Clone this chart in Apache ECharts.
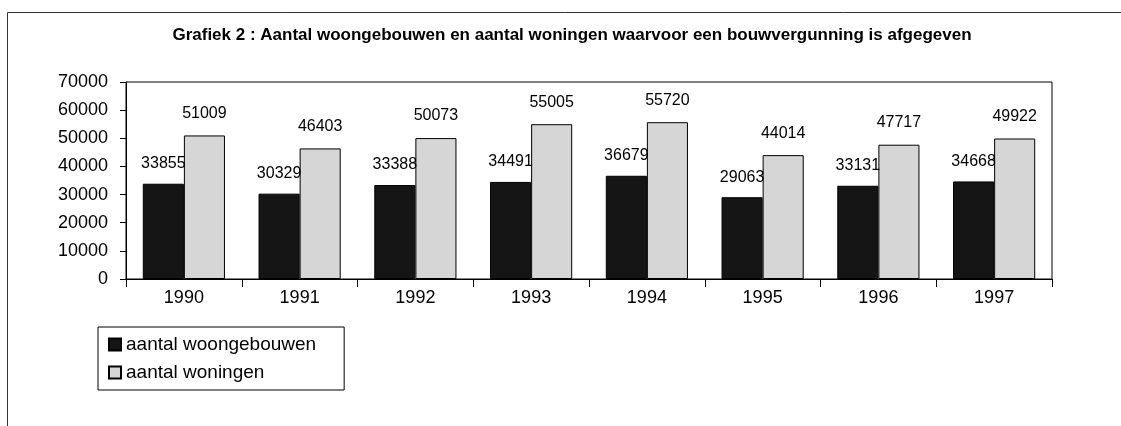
<!DOCTYPE html>
<html>
<head>
<meta charset="utf-8">
<script src="https://cdn.jsdelivr.net/npm/echarts@6/dist/echarts.min.js"></script>
<style>
html, body { margin: 0; padding: 0; background: #fff; }
#main { width: 1121px; height: 426px; }
</style>
</head>
<body>
<div id="main"></div>
<script>
var years = ['1990', '1991', '1992', '1993', '1994', '1995', '1996', '1997'];
var woongebouwen = [33855, 30329, 33388, 34491, 36679, 29063, 33131, 34668];
var woningen = [51009, 46403, 50073, 55005, 55720, 44014, 47717, 49922];
var yTicks = [0, 10000, 20000, 30000, 40000, 50000, 60000, 70000];

var font = 'Arial, "Liberation Sans", sans-serif';

var myChart = echarts.init(document.getElementById('main'));
var option = {
    backgroundColor: '#fff',
    animation: false,
    title: {
        text: 'Grafiek 2 : Aantal woongebouwen en aantal woningen waarvoor een bouwvergunning is afgegeven',
        left: 567,
        textAlign: 'center',
        top: 22,
        textStyle: {fontFamily: font, fontSize: 17, fontWeight: 'bold', color: '#000'}
    },
    legend: {
        orient: 'vertical',
        left: 98,
        top: 327,
        itemWidth: 12,
        itemHeight: 12,
        itemGap: 9,
        padding: [8, 28, 8, 10],
        borderColor: '#000',
        borderWidth: 1,
        icon: 'rect',
        textStyle: {fontFamily: font, fontSize: 19, color: '#000'},
        data: ['aantal woongebouwen', 'aantal woningen']
    },
    grid: {
        left: 126, right: 69, top: 82, bottom: 147,
        show: true, borderColor: '#000', borderWidth: 1, backgroundColor: '#fff'
    },
    xAxis: {
        type: 'category',
        data: years,
        axisLine: {lineStyle: {color: '#000', width: 1}},
        axisTick: {show: true, length: 8, lineStyle: {color: '#000'}},
        axisLabel: {fontFamily: font, fontSize: 18, color: '#000', margin: 10}
    },
    yAxis: {
        type: 'value',
        min: yTicks[0],
        max: yTicks[yTicks.length - 1],
        interval: 10000,
        splitLine: {show: false},
        axisLine: {show: true, lineStyle: {color: '#000', width: 1}},
        axisTick: {show: true, length: 6, lineStyle: {color: '#000'}},
        axisLabel: {fontFamily: font, fontSize: 18, color: '#000', margin: 18, formatter: function (v) { return String(v); }}
    },
    series: [
        {
            name: 'aantal woongebouwen',
            type: 'bar',
            data: woongebouwen,
            barGap: '0%',
            barCategoryGap: '29%',
            itemStyle: {color: '#151515', borderColor: '#000', borderWidth: 1},
            label: {show: true, position: 'top', distance: 12, fontFamily: font, fontSize: 16, color: '#000'}
        },
        {
            name: 'aantal woningen',
            type: 'bar',
            data: woningen,
            itemStyle: {color: '#d6d6d6', borderColor: '#000', borderWidth: 1},
            label: {show: true, position: 'top', distance: 14, fontFamily: font, fontSize: 16, color: '#000'}
        }
    ],
    graphic: [
        {type: 'rect', left: 5, top: 10, shape: {width: 1130, height: 430}, style: {fill: 'none', stroke: '#333', lineWidth: 1}, silent: true, z: -1}
    ]
};
myChart.setOption(option);
</script>
</body>
</html>
